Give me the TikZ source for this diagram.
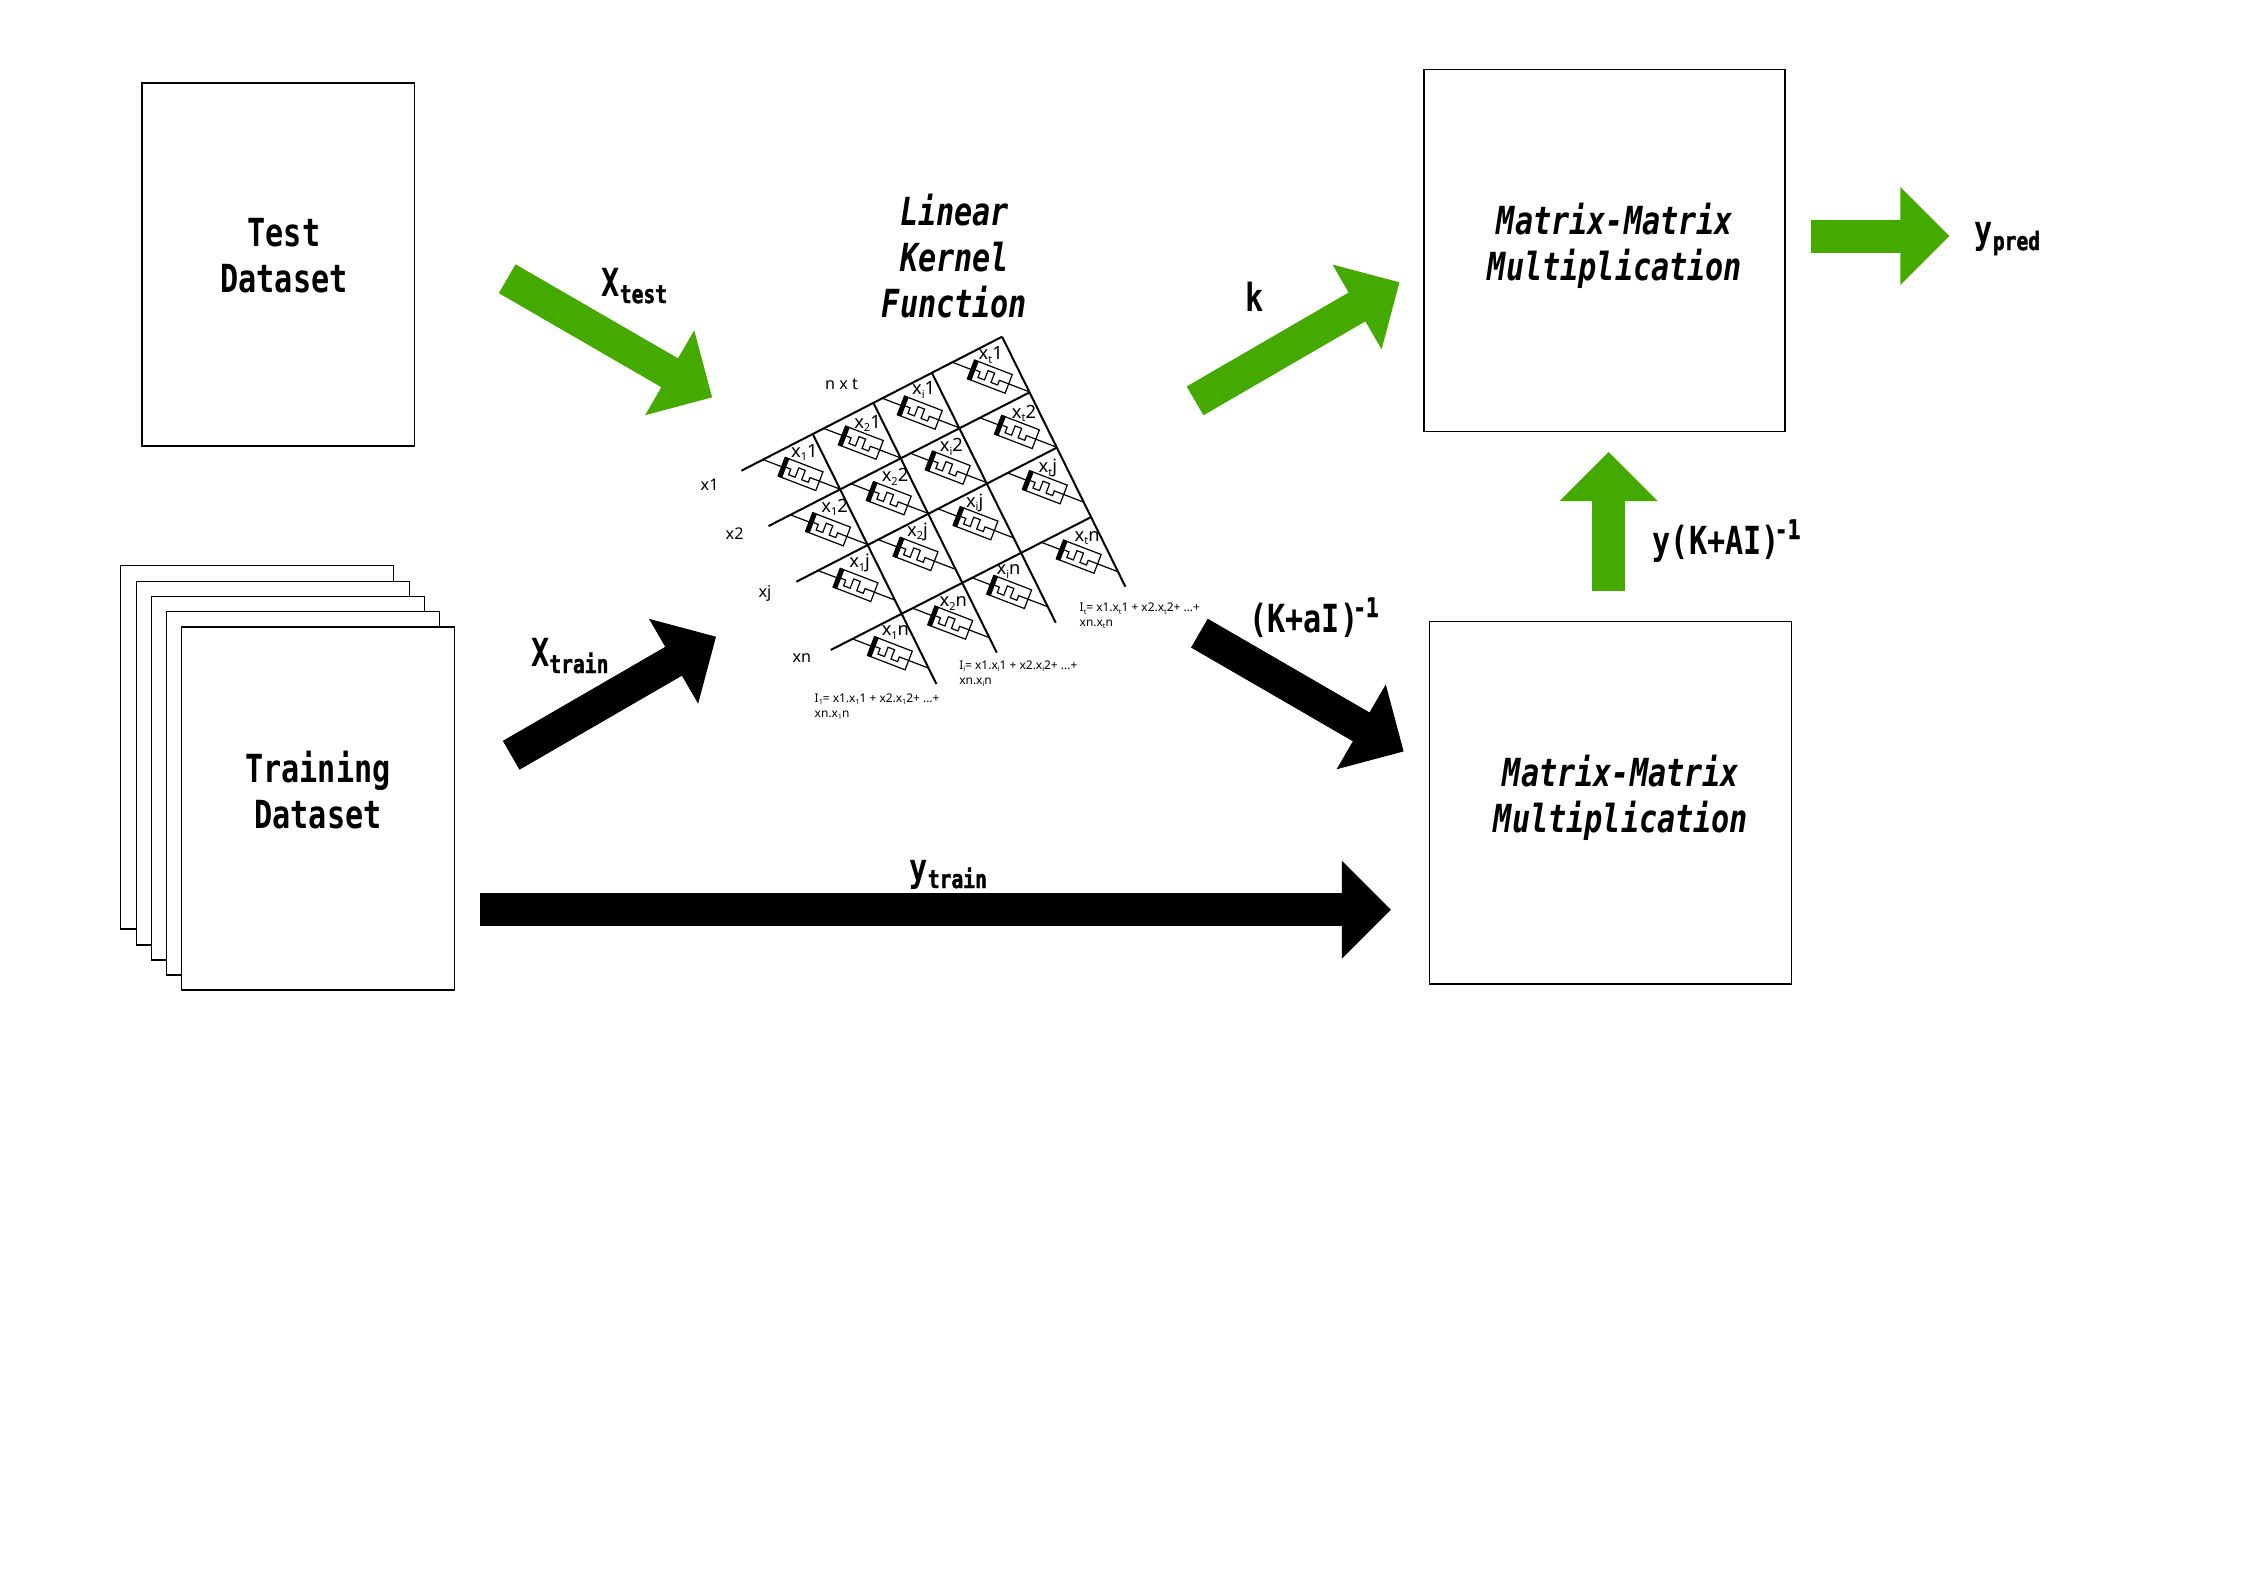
\documentclass[tikz,border=0pt]{standalone}
\usepackage{fontspec}
\usetikzlibrary{arrows.meta,positioning}
\newfontfamily\lblfont[FakeStretch=0.78]{DejaVu Sans Mono}
\newfontfamily\heavyfont[FakeStretch=0.78,FakeBold=1.5]{DejaVu Sans Mono}
\newfontfamily\tinyfont{Noto Sans}
\definecolor{kernelgreen}{HTML}{44AA00}
\newcommand{\subtxt}[1]{\raisebox{-.07cm}{\scalebox{.65}{\heavyfont #1}}}
\newcommand{\invpow}{\kern-.05cm\raisebox{.15cm}{\scalebox{.7}{\heavyfont -1}}}
\newcommand{\cellsub}[1]{\raisebox{-.35ex}{\scalebox{.6}{#1}}}
\tikzset{
    databox/.style={draw, fill=white, line width=0.015cm, anchor=north west, inner sep=0pt, outer sep=0pt},
    bigtext/.style={font=\lblfont\bfseries\fontsize{11}{13}\selectfont, align=center, inner sep=0pt},
    slanttext/.style={font=\lblfont\bfseries\itshape\fontsize{11}{13}\selectfont, align=center, inner sep=0pt},
    baselabel/.style={font=\lblfont\bfseries\fontsize{11}{13}\selectfont, anchor=base west, inner sep=0pt},
    celltext/.style={font=\tinyfont\fontsize{5.2}{6}\selectfont, inner sep=0pt},
    sidetext/.style={font=\tinyfont\fontsize{4.6}{5.5}\selectfont, anchor=base west, inner sep=0pt},
    sumtext/.style={font=\tinyfont\fontsize{3.4}{4.25}\selectfont, align=left, anchor=base west, inner sep=0pt},
    blockarrow/.style={line width=0.33cm, -{Triangle[length=0.49cm,width=0.98cm,line width=0pt]},
        postaction={draw, -, shorten >=0.3cm}},
    gridline/.style={line width=0.02cm},
    wireline/.style={line width=0.012cm},
    wirecell/.pic={
        \draw[wireline] (-41,0) -- (41,0);
        \draw[wireline, fill=white] (-20,-10) rectangle (20,10);
        \fill (-21,-10.5) rectangle (-16,10.5);
        \draw[wireline] (-16,-1) -- (-11,-1) -- (-11,5) -- (-4,5) -- (-4,-5) -- (3,-5) -- (3,5) -- (10,5) -- (10,0) -- (20,0);
    }
}

\begin{document}
\begin{tikzpicture}[x=0.01cm, y=-0.01cm]
    \useasboundingbox (0,0) rectangle (2245,1587);

    % Dataset boxes
    \node[databox, minimum width=2.723cm, minimum height=3.63cm] (testBox) at (142,83) {};
    \node[bigtext] (testLabel) at (284,256) {Test\\Dataset};
    \foreach \n/\bx/\by in {1/120.7/565.7, 2/136.7/581.7, 3/151.7/596.7, 4/166.7/611.7, 5/181.7/627}
        \node[databox, minimum width=2.726cm, minimum height=3.63cm] (trainBox\n) at (\bx,\by) {};
    \node[bigtext] (trainLabel) at (318,790) {Training\\Dataset};

    % Matrix blocks
    \node[databox, minimum width=3.61cm, minimum height=3.62cm] (matrixTop) at (1424,69.3) {};
    \node[slanttext] (matrixTopLabel) at (1615,246) {Matrix-Matrix\\Multiplication};
    \node[databox, minimum width=3.615cm, minimum height=3.626cm] (matrixBottom) at (1429.7,621.4) {};
    \node[slanttext] (matrixBottomLabel) at (1621,798) {Matrix-Matrix\\Multiplication};
    \node[slanttext] (kernelLabel) at (954.5,256) {Linear\\Kernel\\Function};

    % Block arrows
    \coordinate (testTail) at (507.3,278.8);
    \coordinate (testTip) at (712.1,397.3);
    \coordinate (trainTail) at (511.3,755.2);
    \coordinate (trainTip) at (716,636.7);
    \coordinate (kTail) at (1195.2,400.8);
    \coordinate (kTip) at (1399.4,282.3);
    \coordinate (invTail) at (1199.5,633.2);
    \coordinate (invTip) at (1403.6,751.4);
    \coordinate (ytrainTail) at (480.2,909.7);
    \coordinate (ytrainTip) at (1390.8,909.7);
    \coordinate (upTail) at (1608.6,590.7);
    \coordinate (upTip) at (1608.6,452.1);
    \coordinate (predTail) at (1811.4,236);
    \coordinate (predTip) at (1949.3,236);
    \draw[blockarrow, kernelgreen] (testTail) -- (testTip);
    \draw[blockarrow, kernelgreen] (kTail) -- (kTip);
    \draw[blockarrow, kernelgreen] (upTail) -- (upTip);
    \draw[blockarrow, kernelgreen] (predTail) -- (predTip);
    \draw[blockarrow] (trainTail) -- (trainTip);
    \draw[blockarrow] (invTail) -- (invTip);
    \draw[blockarrow] (ytrainTail) -- (ytrainTip);

    % Arrow labels
    \node[baselabel] (xtestLabel) at (601,296) {X\subtxt{test}};
    \node[baselabel] (xtrainLabel) at (530.5,666) {X\subtxt{train}};
    \node[baselabel] (ytrainLabel) at (909,881) {y\subtxt{train}};
    \node[baselabel] (ypredLabel) at (1974,243) {y\subtxt{pred}};
    \node[baselabel] (kLabel) at (1245,311) {k};
    \node[baselabel] (yinvLabel) at (1652,554) {y(K+AI)\invpow};
    \node[baselabel] (invLabel) at (1248.5,632) {(K+aI)\invpow};

    % Crossbar lines
    \foreach \name/\xa/\ya/\xb/\yb in {row1/741.4/470.7/1002.1/336.7, row2/768.6/526/1028.9/392.7,
        row3/796.4/581.7/1056.1/448, row4/830.7/650/1090.7/517.3,
        col1/812.9/434.3/936.4/684, col2/873.6/403.3/996.8/652.7,
        col3/932.1/373.3/1055.7/622.7, col4/1002.1/336.7/1125.4/586.7} {
        \coordinate (\name a) at (\xa,\ya);
        \coordinate (\name b) at (\xb,\yb);
        \draw[gridline] (\name a) -- (\name b);
    }

    % Crossbar cells
    \foreach \cx/\cy/\lx/\ly/\sb/\idx [count=\n] in {
        800.7/474/804.3/452.7/1/1, 861/442.7/867.5/423.3/2/1, 920/412.7/923.6/390/i/1, 990/376.7/990.7/355/t/1,
        828.2/529.3/834.6/507.3/1/2, 888.9/498.3/895/476.7/2/2, 947.9/467.7/951.4/446.7/i/2, 1017.1/432/1023.9/413.3/t/2,
        855.7/585/859.6/563.3/1/j, 915.7/554/917.5/531.7/2/j, 975.7/523.3/974.6/502.7/i/j, 1045/487.3/1047.9/468.3/t/j,
        890/653.3/895.4/632.7/1/n, 950.4/622.7/953.2/603.3/2/n, 1009.3/592/1008.6/571.7/i/n, 1078.9/556.7/1087.1/538.3/t/n} {
        \pic[rotate=-21] at (\cx,\cy) {wirecell};
        \node[celltext] (cellLabel\n) at (\lx,\ly) {x\cellsub{\sb}\idx};
    }

    % Crossbar side labels
    \node[sidetext] (sizeLabel) at (824.5,389.3) {n x t};
    \node[sidetext] (rowLabelA) at (700,490) {x1};
    \node[sidetext] (rowLabelB) at (725,539.3) {x2};
    \node[sidetext] (rowLabelC) at (757.9,597.3) {xj};
    \node[sidetext] (rowLabelD) at (791.9,662.3) {xn};

    % Column sums
    \node[sumtext] (sumFirst) at (814,717.3) {I\cellsub{1}= x1.x\cellsub{1}1 + x2.x\cellsub{1}2+ ...+\\xn.x\cellsub{1}n};
    \node[sumtext] (sumMid) at (958.6,684) {I\cellsub{i}= x1.x\cellsub{i}1 + x2.x\cellsub{i}2+ ...+\\xn.x\cellsub{i}n};
    \node[sumtext] (sumLast) at (1079,626.7) {I\cellsub{t}= x1.x\cellsub{t}1 + x2.x\cellsub{t}2+ ...+\\xn.x\cellsub{t}n};
\end{tikzpicture}
\end{document}
